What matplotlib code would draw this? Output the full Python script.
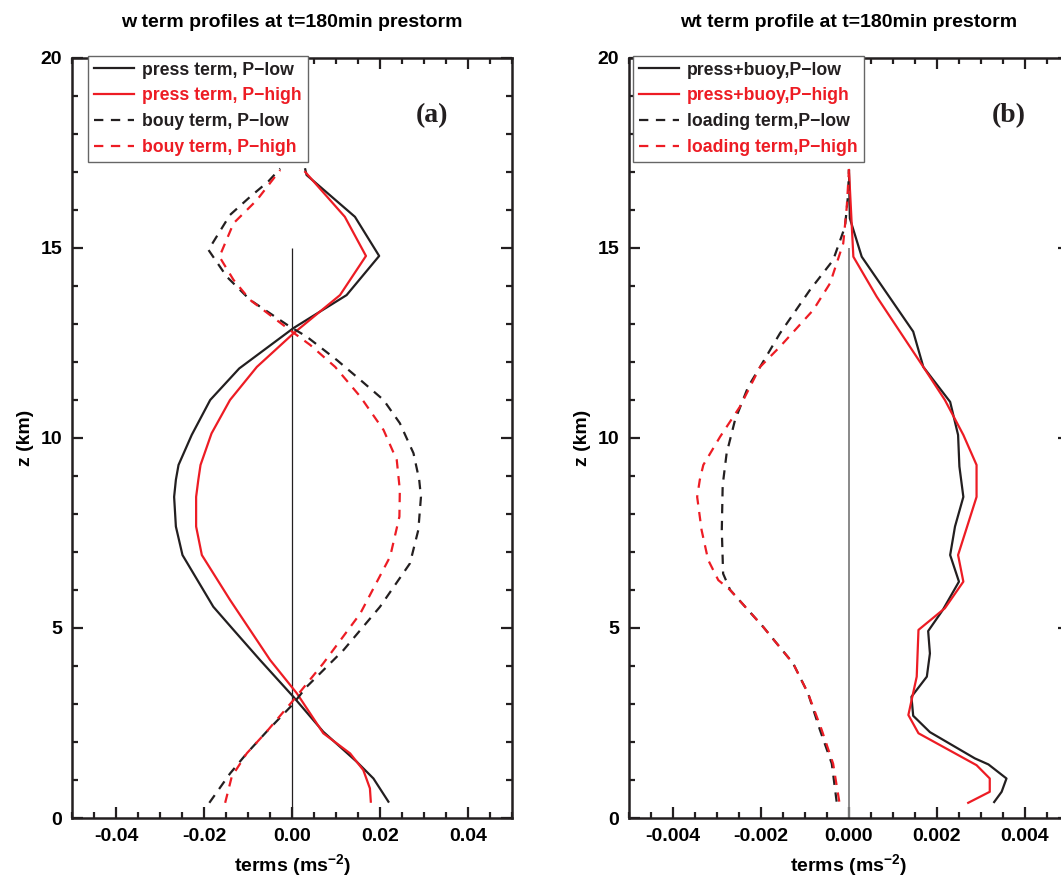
import numpy as np
import matplotlib
matplotlib.use("Agg")
import matplotlib.pyplot as plt
from matplotlib.ticker import MultipleLocator, FormatStrFormatter

plt.rcParams['font.family'] = ['Liberation Sans', 'DejaVu Sans']
plt.rcParams['font.weight'] = 'bold'
plt.rcParams['axes.labelweight'] = 'bold'
plt.rcParams['mathtext.fontset'] = 'custom'
plt.rcParams['mathtext.rm'] = 'Liberation Sans:bold'
plt.rcParams['mathtext.bf'] = 'Liberation Sans:bold'
plt.rcParams['mathtext.default'] = 'bf'

BLACK = '#231f20'
RED = '#ed1c24'

# ---- panel (a): w term profiles
press_low_z = [0.43, 1.04, 1.48, 2.27, 3.19, 4.16, 4.95, 5.56, 6.92, 7.67, 8.45, 8.9, 9.29,
               10.08, 11.0, 11.83, 12.89, 13.76, 14.79, 15.82, 16.35, 16.92, 17.07]
press_low_x = [0.0219, 0.0185, 0.0147, 0.0071, 0.0003, -0.0073, -0.0133, -0.0179, -0.0249,
               -0.0264, -0.0268, -0.0264, -0.0258, -0.0228, -0.0186, -0.012, 0.0003, 0.0124,
               0.0198, 0.0143, 0.009, 0.0033, 0.003]

press_high_z = [0.43, 0.78, 1.26, 1.7, 2.23, 3.28, 4.16, 5.74, 6.92, 7.67, 8.45, 8.9, 9.29,
                10.12, 11.0, 11.87, 12.75, 13.76, 14.79, 15.82, 17.0]
press_high_x = [0.0179, 0.0177, 0.0162, 0.0132, 0.0071, 0.0011, -0.005, -0.0141, -0.0205,
                -0.0218, -0.0218, -0.0213, -0.0208, -0.0183, -0.0141, -0.008, 0.0003, 0.0109,
                0.0168, 0.012, 0.003]

buoy_low_z = [0.4, 1.17, 1.7, 2.27, 2.97, 3.45, 4.42, 5.56, 6.7, 7.58, 8.45, 8.9, 9.6, 10.39,
              11.0, 11.53, 12.05, 12.67, 12.93, 13.63, 14.24, 14.95, 15.87, 16.35, 16.75, 17.09]
buoy_low_x = [-0.0188, -0.0141, -0.0103, -0.0058, 0.0, 0.0033, 0.0117, 0.02, 0.0268, 0.0287,
              0.0293, 0.0289, 0.0276, 0.0245, 0.0208, 0.0155, 0.0102, 0.0033, -0.0005, -0.0095,
              -0.0148, -0.019, -0.0141, -0.0095, -0.0054, -0.0027]

buoy_high_z = [0.4, 1.09, 1.7, 2.27, 3.1, 4.07, 5.38, 6.88, 7.93, 8.63, 9.42, 10.21, 11.09,
               11.87, 12.45, 12.84, 13.63, 14.16, 14.77, 15.65, 16.26, 17.05]
buoy_high_x = [-0.0152, -0.0137, -0.0103, -0.0058, 0.0003, 0.0071, 0.0155, 0.0223, 0.0244,
               0.0245, 0.0238, 0.0208, 0.0155, 0.0098, 0.0041, -0.0005, -0.0095, -0.0133,
               -0.0165, -0.0133, -0.008, -0.0027]

# ---- panel (b): wt term profiles
pb_low_z = [0.42, 0.69, 1.04, 1.41, 1.57, 2.26, 2.69, 3.19, 3.72, 4.33, 4.92, 5.47, 6.22, 6.92,
            7.67, 8.45, 9.25, 10.08, 10.95, 11.87, 12.8, 14.77, 15.78, 17.05]
pb_low_x = [0.0033, 0.00347, 0.00358, 0.00317, 0.00286, 0.00184, 0.00146, 0.00142, 0.00177,
            0.00184, 0.0018, 0.00213, 0.0025, 0.0023, 0.00241, 0.0026, 0.00251, 0.00248,
            0.0023, 0.00169, 0.00146, 0.00029, 0.00002, 0.0]

pb_high_z = [0.4, 0.69, 1.04, 1.39, 2.23, 2.71, 3.72, 4.95, 5.52, 6.22, 6.92, 8.45, 9.29,
             10.08, 11.0, 11.87, 13.72, 14.77, 17.05]
pb_high_x = [0.00271, 0.0032, 0.0032, 0.0029, 0.00158, 0.00135, 0.00154, 0.00158, 0.00218,
             0.0026, 0.00248, 0.0029, 0.0029, 0.0026, 0.00218, 0.00169, 0.00063, 0.0001, 0.0]

ld_low_z = [0.43, 1.43, 2.32, 3.28, 4.07, 5.03, 6.0, 6.43, 7.58, 8.76, 9.6, 10.47, 11.35,
            11.87, 12.75, 13.89, 14.68, 15.56, 16.4, 17.05]
ld_low_x = [-0.00028, -0.00039, -0.00066, -0.00093, -0.00127, -0.00195, -0.0027, -0.00286,
            -0.00289, -0.00287, -0.00278, -0.00259, -0.00229, -0.00202, -0.00157, -0.00089,
            -0.00036, -0.00009, -0.00002, 0.0]

ld_high_z = [0.43, 1.43, 2.32, 3.28, 4.07, 5.03, 6.0, 6.26, 6.79, 7.58, 8.45, 8.9, 9.29, 10.03,
             10.82, 11.87, 12.4, 13.37, 14.07, 15.12, 16.08, 17.05]
ld_high_x = [-0.00022, -0.00036, -0.00062, -0.00093, -0.00127, -0.00195, -0.0027, -0.00297,
             -0.0032, -0.00335, -0.00345, -0.00339, -0.00331, -0.00293, -0.00248, -0.00202,
             -0.00157, -0.00081, -0.00043, -0.00013, -0.00005, 0.0]

zero_line_top = 15

fig = plt.figure(figsize=(10.61, 8.81), dpi=100)
ax_a = fig.add_axes([0.0679, 0.0715, 0.4147, 0.8627])
ax_b = fig.add_axes([0.5928, 0.0715, 0.4147, 0.8627])

dash = (0, (4.2, 3.4))


def style_axes(ax, xlim, xmajor, xminor, fmt):
    ax.set_xlim(*xlim)
    ax.set_ylim(0, 20)
    ax.xaxis.set_major_locator(MultipleLocator(xmajor))
    ax.xaxis.set_minor_locator(MultipleLocator(xminor))
    ax.xaxis.set_major_formatter(FormatStrFormatter(fmt))
    ax.yaxis.set_major_locator(MultipleLocator(5))
    ax.yaxis.set_minor_locator(MultipleLocator(1))
    ax.tick_params(which='both', direction='in', top=True, right=True, width=1.6,
                   labelsize=14, color=BLACK)
    ax.tick_params(which='major', length=8, pad=7)
    ax.tick_params(which='minor', length=4.5)
    for s in ax.spines.values():
        s.set_linewidth(1.8)
        s.set_color(BLACK)
    ax.set_ylabel('z (km)', fontsize=14, labelpad=5)
    ax.set_xlabel(r'terms (ms$^{-2}$)', fontsize=14, labelpad=5)


def add_legend(ax, left):
    leg = ax.legend(loc='upper left', bbox_to_anchor=(left, 1.003), borderaxespad=0,
                    fontsize=12.7, handlelength=2.3, handletextpad=0.45,
                    labelspacing=0.5, borderpad=0.33, fancybox=False, framealpha=1)
    leg.get_frame().set_edgecolor('#666666')
    leg.get_frame().set_linewidth(1.0)
    for txt, ln in zip(leg.get_texts(), leg.get_lines()):
        txt.set_color(ln.get_color())


# panel (a)
ax_a.vlines(0, 0, zero_line_top, color=BLACK, lw=0.9)
ax_a.plot(press_low_x, press_low_z, color=BLACK, lw=1.6, label='press term, P\u2212low')
ax_a.plot(press_high_x, press_high_z, color=RED, lw=1.6, label='press term, P\u2212high')
ax_a.plot(buoy_low_x, buoy_low_z, color=BLACK, lw=1.6, ls=dash, label='bouy term, P\u2212low')
ax_a.plot(buoy_high_x, buoy_high_z, color=RED, lw=1.6, ls=dash, label='bouy term, P\u2212high')
style_axes(ax_a, (-0.05, 0.05), 0.02, 0.005, '%.2f')
add_legend(ax_a, 0.036)
ax_a.text(0.817, 0.924, '(a)', transform=ax_a.transAxes, ha='center', va='center',
          fontsize=20, fontweight='bold', family='Liberation Serif', color=BLACK)
ax_a.set_title('w term profiles at t=180min prestorm', fontsize=14, fontweight='bold', pad=22)

# panel (b)
ax_b.vlines(0, 0, zero_line_top, color='#808080', lw=1.3)
ax_b.plot(pb_low_x, pb_low_z, color=BLACK, lw=1.6, label='press+buoy,P\u2212low')
ax_b.plot(pb_high_x, pb_high_z, color=RED, lw=1.6, label='press+buoy,P\u2212high')
ax_b.plot(ld_low_x, ld_low_z, color=BLACK, lw=1.6, ls=dash, label='loading term,P\u2212low')
ax_b.plot(ld_high_x, ld_high_z, color=RED, lw=1.6, ls=dash, label='loading term,P\u2212high')
style_axes(ax_b, (-0.005, 0.005), 0.002, 0.0005, '%.3f')
add_legend(ax_b, 0.009)
ax_b.text(0.864, 0.924, '(b)', transform=ax_b.transAxes, ha='center', va='center',
          fontsize=20, fontweight='bold', family='Liberation Serif', color=BLACK)
ax_b.set_title('wt term profile at t=180min prestorm', fontsize=14, fontweight='bold', pad=22)

fig.savefig('out.png', dpi=100, facecolor='white')
